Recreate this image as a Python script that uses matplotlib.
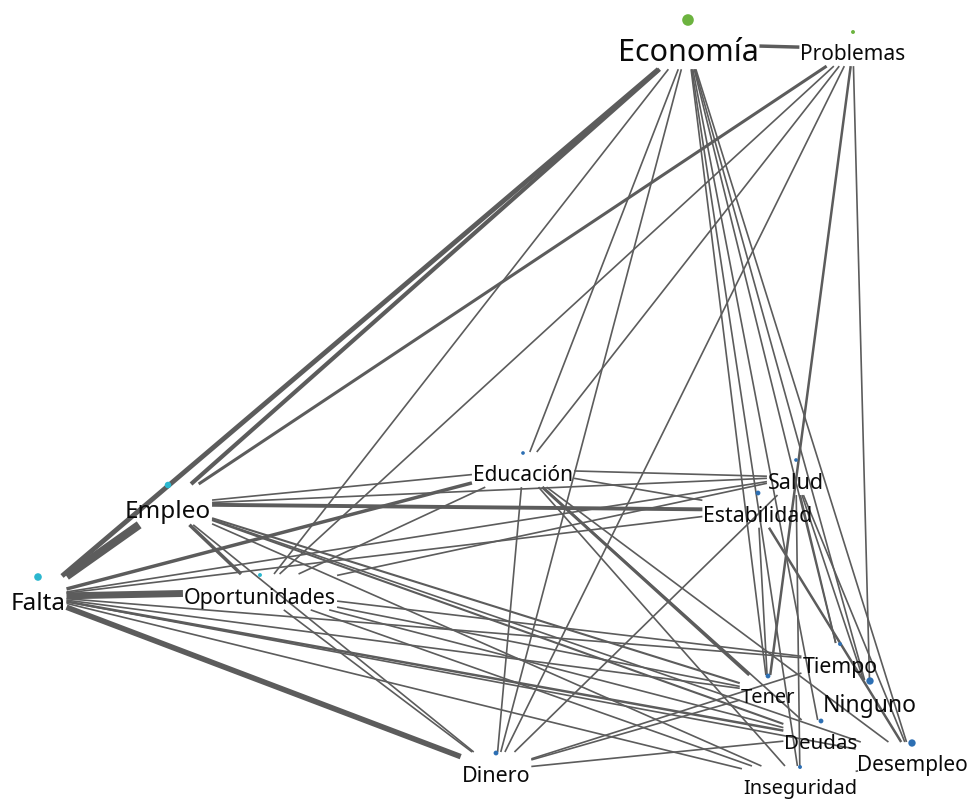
import matplotlib
matplotlib.use("Agg")
import matplotlib.pyplot as plt
import numpy as np

# --------------------------------------------------
# Daten: Knoten (Layout-Position in Pixeln), Schriftgröße, Punktgröße, Gruppe
# --------------------------------------------------
nodes = ["Economía", "Problemas", "Empleo", "Falta", "Oportunidades", "Educación",
         "Salud", "Estabilidad", "Tiempo", "Tener", "Ninguno", "Deudas",
         "Desempleo", "Inseguridad", "Dinero"]
node_x = [688, 853, 168, 38, 260, 523, 796, 758, 840, 768, 870, 821, 912, 800, 496]
node_y = [20, 32, 485, 577, 575, 453, 460, 493, 644, 676, 681, 721, 743, 767, 753]
font_sizes = [22, 15, 17.5, 17.5, 15.4, 15, 15.5, 15.3, 15.3, 14.4, 16.5, 14.8, 15, 14.4, 15.5]
dot_sizes = [70, 8, 22, 30, 8, 7, 7, 12, 8, 12, 28, 12, 28, 8, 12]
groups = ["g", "g", "c", "c", "c", "b", "b", "b", "b", "b", "b", "b", "b", "b", "b"]

# Kanten: Quelle, Ziel, Gewicht (Linienbreite)
edge_src = ["Economía", "Economía", "Economía", "Economía", "Economía", "Economía",
            "Economía", "Economía", "Economía", "Economía", "Economía", "Economía",
            "Problemas", "Problemas", "Problemas", "Problemas", "Problemas", "Problemas",
            "Empleo", "Empleo", "Empleo", "Empleo", "Empleo", "Empleo", "Empleo",
            "Empleo", "Empleo", "Empleo",
            "Falta", "Falta", "Falta", "Falta", "Falta", "Falta", "Falta", "Falta",
            "Falta", "Falta",
            "Oportunidades", "Oportunidades", "Oportunidades", "Oportunidades",
            "Oportunidades", "Oportunidades", "Oportunidades",
            "Educación", "Educación", "Educación", "Educación", "Educación",
            "Educación", "Educación",
            "Salud", "Salud", "Salud", "Salud", "Salud",
            "Estabilidad", "Estabilidad",
            "Dinero", "Dinero", "Dinero", "Inseguridad"]
edge_dst = ["Falta", "Empleo", "Problemas", "Oportunidades", "Educación", "Dinero",
            "Tener", "Inseguridad", "Deudas", "Tiempo", "Desempleo", "Ninguno",
            "Empleo", "Oportunidades", "Educación", "Dinero", "Tener", "Ninguno",
            "Falta", "Estabilidad", "Educación", "Salud", "Oportunidades", "Dinero",
            "Tener", "Deudas", "Desempleo", "Inseguridad",
            "Oportunidades", "Educación", "Salud", "Estabilidad", "Dinero", "Tiempo",
            "Tener", "Deudas", "Desempleo", "Inseguridad",
            "Educación", "Salud", "Dinero", "Tiempo", "Tener", "Deudas", "Inseguridad",
            "Salud", "Estabilidad", "Dinero", "Tener", "Deudas", "Inseguridad",
            "Desempleo",
            "Dinero", "Tiempo", "Ninguno", "Desempleo", "Inseguridad",
            "Tener", "Desempleo",
            "Tiempo", "Tener", "Deudas", "Desempleo"]
edge_w = [3.5, 3.0, 2.5, 1.2, 1.2, 1.2,
          1.2, 1.2, 1.2, 1.2, 1.2, 1.2,
          2.2, 1.2, 1.2, 1.2, 1.8, 1.2,
          6.0, 2.8, 1.2, 1.2, 2.5, 1.2,
          1.5, 1.5, 1.2, 1.2,
          5.0, 2.5, 1.2, 1.2, 4.0, 1.2,
          1.2, 1.8, 1.2, 1.2,
          1.2, 1.2, 1.2, 1.2, 1.2, 1.2, 1.2,
          1.2, 1.2, 1.2, 2.2, 1.2, 1.2,
          1.2,
          1.2, 1.2, 1.2, 1.2, 1.2,
          1.2, 1.8,
          1.2, 1.2, 1.2, 1.2]

COLORS = {"g": "#6cb33f", "c": "#2bb7cf", "b": "#2d6fb3"}
EDGE_COLOR = "#5c5c5c"

plt.rcParams['font.family'] = ['Noto Sans', 'DejaVu Sans']

fig = plt.figure(figsize=(9.71, 8.01), dpi=100)
ax = fig.add_axes([0, 0, 1, 1])
ax.set_xlim(0, 971)
ax.set_ylim(801, 0)
ax.axis('off')

# Punkte
ax.scatter(node_x, node_y, s=dot_sizes, c=[COLORS[g] for g in groups],
           zorder=3, linewidths=0)

# Beschriftungen unter den Punkten
texts = []
for name, x, y, fs in zip(nodes, node_x, node_y, font_sizes):
    t = ax.annotate(name, (x, y), xytext=(0, -1.35 * fs), textcoords='offset points',
                    ha='center', va='baseline', fontsize=fs, color='#0a0a0a', zorder=4)
    texts.append(t)

# Boxen (Text + Punkt) bestimmen, damit die Kanten am Rand enden
fig.canvas.draw()
renderer = fig.canvas.get_renderer()
inv = ax.transData.inverted()
boxes = {}
for name, t, x, y in zip(nodes, texts, node_x, node_y):
    bb = t.get_window_extent(renderer)
    (x0, y0), (x1, y1) = inv.transform([(bb.x0, bb.y0), (bb.x1, bb.y1)])
    xmin, xmax = min(x0, x1, x), max(x0, x1, x)
    ymin, ymax = min(y0, y1, y), max(y0, y1, y)
    boxes[name] = ((xmin + xmax) / 2, (ymin + ymax) / 2, (xmax - xmin) / 2 + 1, (ymax - ymin) / 2 + 1)


def exit_point(box, dx, dy):
    cx, cy, hw, hh = box
    ts = []
    if abs(dx) > 1e-9:
        ts.append(hw / abs(dx))
    if abs(dy) > 1e-9:
        ts.append(hh / abs(dy))
    t = min(ts)
    return cx + t * dx, cy + t * dy


for s, d, w in zip(edge_src, edge_dst, edge_w):
    bs, bd = boxes[s], boxes[d]
    dx, dy = bd[0] - bs[0], bd[1] - bs[1]
    p0 = exit_point(bs, dx, dy)
    p1 = exit_point(bd, -dx, -dy)
    ax.plot([p0[0], p1[0]], [p0[1], p1[1]], color=EDGE_COLOR, lw=w,
            solid_capstyle='butt', zorder=1)

plt.savefig('out.png', dpi=100)
